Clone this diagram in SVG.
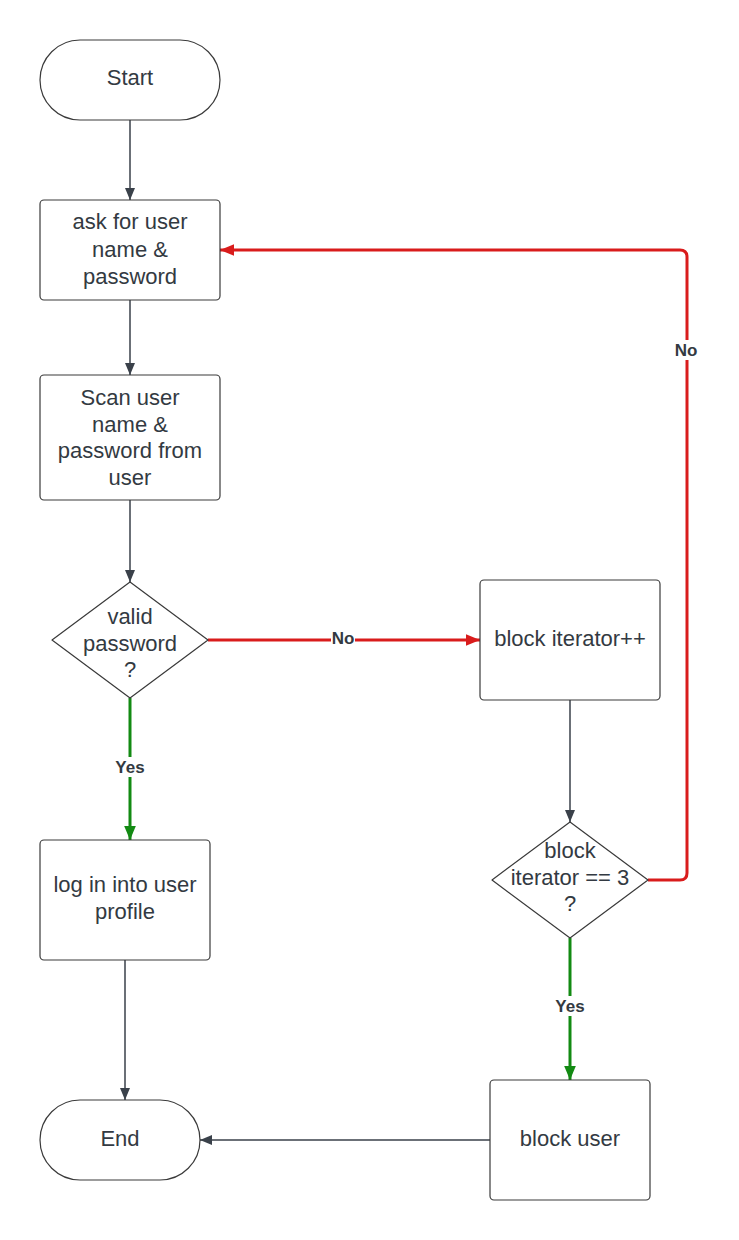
<svg xmlns="http://www.w3.org/2000/svg" width="739" height="1240" viewBox="0 0 739 1240">
<style>
.node{fill:#fff;stroke:#3a3a3a;stroke-width:1.2}
.t{font-family:"Liberation Sans",Arial,sans-serif;font-size:22px;fill:#333a42;text-anchor:middle}
.lbl{font-family:"Liberation Sans",Arial,sans-serif;font-size:17px;font-weight:bold;fill:#333a42;text-anchor:middle}
.c{fill:none;stroke:#3a414a;stroke-width:1.5}
.r{fill:none;stroke:#d91c1c;stroke-width:3}
.g{fill:none;stroke:#138a13;stroke-width:3}
</style>
<defs>
<marker id="ad" viewBox="0 0 12 10" refX="12" refY="5" markerWidth="12" markerHeight="10" markerUnits="userSpaceOnUse" orient="auto"><path d="M0,0 L12,5 L0,10 Z" fill="#3a414a"/></marker>
<marker id="ar" viewBox="0 0 12 10" refX="12" refY="5" markerWidth="14" markerHeight="12" markerUnits="userSpaceOnUse" orient="auto"><path d="M0,0 L12,5 L0,10 Z" fill="#d91c1c"/></marker>
<marker id="ag" viewBox="0 0 12 10" refX="12" refY="5" markerWidth="14" markerHeight="12" markerUnits="userSpaceOnUse" orient="auto" ><path d="M0,0 L12,5 L0,10 Z" fill="#138a13"/></marker>
</defs>
<rect width="739" height="1240" fill="#fff"/>
<g id="connectors">
<path class="c" d="M130,120 V200" marker-end="url(#ad)"/>
<path class="c" d="M130,300 V375" marker-end="url(#ad)"/>
<path class="c" d="M130,500 V582" marker-end="url(#ad)"/>
<path class="r" d="M208,640 H480" marker-end="url(#ar)"/>
<path class="g" d="M130,698 V840" marker-end="url(#ag)"/>
<path class="c" d="M570,700 V822" marker-end="url(#ad)"/>
<path class="r" d="M648,880 H680 Q687,880 687,873 V257 Q687,250 680,250 H220" marker-end="url(#ar)"/>
<path class="g" d="M570,938 V1080" marker-end="url(#ag)"/>
<path class="c" d="M125,960 V1100" marker-end="url(#ad)"/>
<path class="c" d="M490,1140 H200" marker-end="url(#ad)"/>
<rect x="331" y="630" width="24" height="16" fill="#fff"/>
<text class="lbl" x="343" y="644">No</text>
<rect x="113" y="757" width="34" height="20" fill="#fff"/>
<text class="lbl" x="130" y="773">Yes</text>
<rect x="673" y="340" width="26" height="20" fill="#fff"/>
<text class="lbl" x="686" y="356">No</text>
<rect x="553" y="996" width="34" height="20" fill="#fff"/>
<text class="lbl" x="570" y="1012">Yes</text>
</g>
<g id="start"><rect class="node" x="40" y="40" width="180" height="80" rx="40"/><text class="t" x="130" y="85">Start</text></g>
<g id="ask"><rect class="node" x="40" y="200" width="180" height="100" rx="4"/><text class="t" x="130" y="229">ask for user</text><text class="t" x="130" y="257">name &amp;</text><text class="t" x="130" y="284">password</text></g>
<g id="scan"><rect class="node" x="40" y="375" width="180" height="125" rx="4"/><text class="t" x="130" y="405">Scan user</text><text class="t" x="130" y="432">name &amp;</text><text class="t" x="130" y="458">password from</text><text class="t" x="130" y="485">user</text></g>
<g id="valid"><path class="node" d="M130,582 L208,640 L130,698 L52,640 Z" stroke-linejoin="round"/><text class="t" x="130" y="624">valid</text><text class="t" x="130" y="651">password</text><text class="t" x="130" y="677">?</text></g>
<g id="blockiter"><rect class="node" x="480" y="580" width="180" height="120" rx="4"/><text class="t" x="570" y="646">block iterator++</text></g>
<g id="check"><path class="node" d="M570,822 L648,880 L570,938 L492,880 Z" stroke-linejoin="round"/><text class="t" x="570" y="858">block</text><text class="t" x="570" y="885">iterator == 3</text><text class="t" x="570" y="911">?</text></g>
<g id="login"><rect class="node" x="40" y="840" width="170" height="120" rx="4"/><text class="t" x="125" y="892">log in into user</text><text class="t" x="125" y="919">profile</text></g>
<g id="end"><rect class="node" x="40" y="1100" width="160" height="80" rx="40"/><text class="t" x="120" y="1146">End</text></g>
<g id="blockuser"><rect class="node" x="490" y="1080" width="160" height="120" rx="4"/><text class="t" x="570" y="1146">block user</text></g>
</svg>
